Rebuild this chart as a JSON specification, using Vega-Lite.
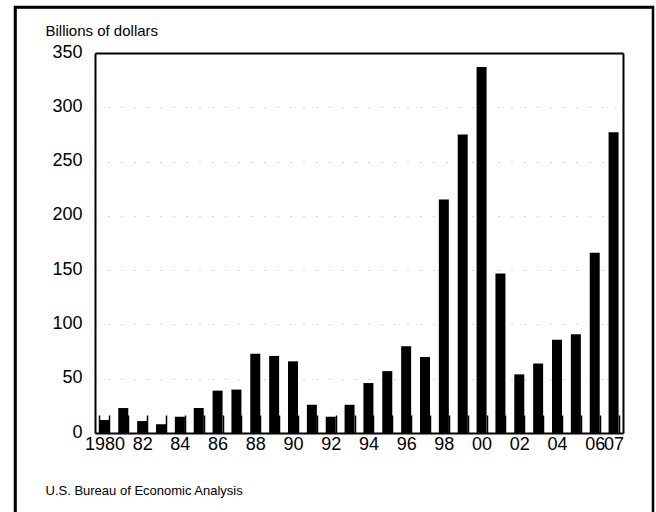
{
  "$schema": "https://vega.github.io/schema/vega-lite/v6.json",
  "width": 638,
  "height": 513,
  "autosize": "none",
  "padding": {"left": 15, "top": 7, "right": 3, "bottom": -8},
  "background": "white",
  "config": {
    "view": {"stroke": "black", "strokeWidth": 2.5},
    "font": "Liberation Sans",
    "axis": {"labelFont": "Liberation Sans", "titleFont": "Liberation Sans", "labelColor": "black", "titleColor": "black", "domainColor": "black", "domainWidth": 2, "tickColor": "black"}
  },
  "data": {"values": [
    {"year": "1980", "value": 12}, {"year": "1981", "value": 23}, {"year": "1982", "value": 11},
    {"year": "1983", "value": 8}, {"year": "1984", "value": 15}, {"year": "1985", "value": 23},
    {"year": "1986", "value": 39}, {"year": "1987", "value": 40}, {"year": "1988", "value": 73},
    {"year": "1989", "value": 71}, {"year": "1990", "value": 66}, {"year": "1991", "value": 26},
    {"year": "1992", "value": 15}, {"year": "1993", "value": 26}, {"year": "1994", "value": 46},
    {"year": "1995", "value": 57}, {"year": "1996", "value": 80}, {"year": "1997", "value": 70},
    {"year": "1998", "value": 215}, {"year": "1999", "value": 275}, {"year": "2000", "value": 337},
    {"year": "2001", "value": 147}, {"year": "2002", "value": 54}, {"year": "2003", "value": 64},
    {"year": "2004", "value": 86}, {"year": "2005", "value": 91}, {"year": "2006", "value": 166},
    {"year": "2007", "value": 277}
  ]},
  "layer": [
    {
      "mark": {"type": "bar", "color": "black"},
      "encoding": {
        "x": {
          "field": "year", "type": "ordinal",
          "scale": {"range": [80, 608], "paddingInner": 0.47, "paddingOuter": 0.235},
          "axis": {
            "orient": "bottom", "offset": -87, "title": "U.S. Bureau of Economic Analysis",
            "titleFontSize": 13, "titleFontWeight": "normal", "titleX": 30, "titleY": 57,
            "titleAlign": "left", "titleBaseline": "middle",
            "labelAngle": 0, "labelFontSize": 18, "labelPadding": 20,
            "labelExpr": "!isValid(datum.value) ? '' : (datum.value == '1980' ? '1980' : ((toNumber(datum.value) % 2 == 0 || datum.value == '2007') ? substring(datum.value, 2, 4) : ''))",
            "tickBand": "extent", "tickOffset": 5, "tickSize": -18, "tickWidth": 1.5,
            "labelOverlap": false, "grid": false
          }
        },
        "y": {
          "field": "value", "type": "quantitative",
          "scale": {"domain": [0, 350], "range": [426, 46], "nice": false},
          "axis": {
            "orient": "left", "offset": -80, "values": [0, 50, 100, 150, 200, 250, 300, 350],
            "ticks": false, "labelFontSize": 18, "labelPadding": 13, "labelOffset": -1,
            "title": "Billions of dollars", "titleAngle": 0, "titleFontSize": 15, "titleFontWeight": "normal",
            "titleAlign": "left", "titleBaseline": "middle", "titleX": -50, "titleY": 23,
            "grid": true, "gridColor": "#aaaaaa", "gridDash": [1, 12], "gridWidth": 1
          }
        }
      }
    },
    {
      "mark": {"type": "bar", "opacity": 0},
      "encoding": {
        "x": {
          "field": "year", "type": "ordinal",
          "scale": {"range": [80, 608], "paddingInner": 0.47, "paddingOuter": 0.235},
          "axis": {"orient": "top", "offset": -46, "labels": false, "ticks": false, "title": "", "grid": false}
        },
        "y": {
          "field": "value", "type": "quantitative",
          "scale": {"domain": [0, 350], "range": [426, 46], "nice": false},
          "axis": {"orient": "right", "offset": -30, "labels": false, "ticks": false, "title": "", "grid": false}
        }
      }
    },
    {
      "mark": {"type": "bar", "opacity": 0},
      "encoding": {
        "x": {
          "field": "year", "type": "ordinal",
          "axis": {"orient": "top", "offset": 0, "labels": false, "ticks": false, "title": "", "grid": false, "domainWidth": 2.5}
        },
        "y": {
          "field": "value", "type": "quantitative",
          "axis": {"orient": "left", "offset": 0, "labels": false, "ticks": false, "title": "", "grid": false, "domainWidth": 2.5}
        }
      }
    }
  ],
  "resolve": {"scale": {"x": "independent", "y": "independent"}}
}
